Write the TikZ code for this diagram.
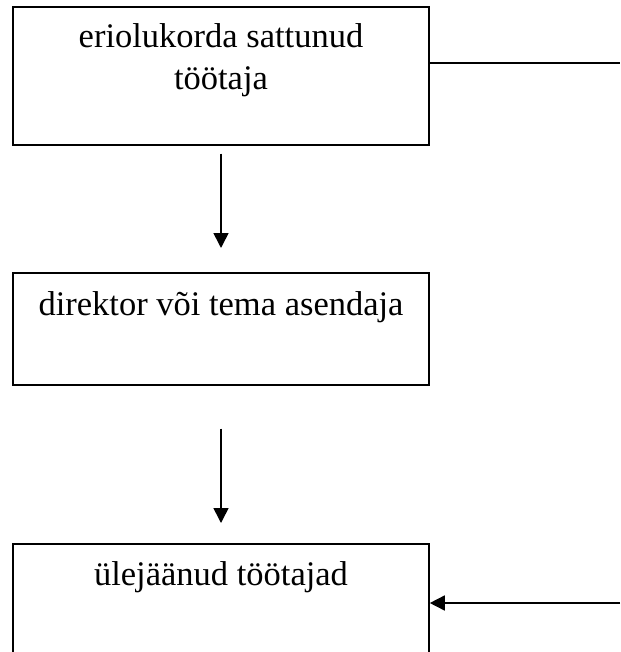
\documentclass[tikz,border=0pt]{standalone}
\usepackage{fontspec}
\setmainfont{Liberation Serif}
\usetikzlibrary{arrows.meta}
\begin{document}
\begin{tikzpicture}[x=1pt, y=-1pt, line width=1.6pt,
    box/.style={draw, rectangle, anchor=north, minimum width=416pt, inner sep=0pt,
        align=center, font=\fontsize{34.5}{42}\selectfont},
    arr/.style={-{Triangle[length=15pt, width=15pt]}}]
    \useasboundingbox (0,0) rectangle (620,652);
    \def \w {221}
    \node[box, text height=83pt, text depth=55pt] (top) at (\w, 6) {eriolukorda sattunud\\töötaja};
    \node[box, text height=43pt, text depth=69pt] (mid) at (\w, 272) {direktor või tema asendaja};
    \node[box, text height=42pt, text depth=75pt] (bot) at (\w, 543) {ülejäänud töötajad};
    \coordinate (tr) at (620, 63);
    \coordinate (br) at (620, 603);
    \draw[arr, shorten <=8pt, shorten >=24pt] (top) -- (mid);
    \draw[arr, shorten <=43pt, shorten >=20pt] (mid) -- (bot);
    \draw (top.east |- tr) -- (tr);
    \draw[arr] (br) -- (br -| bot.east);
\end{tikzpicture}
\end{document}
